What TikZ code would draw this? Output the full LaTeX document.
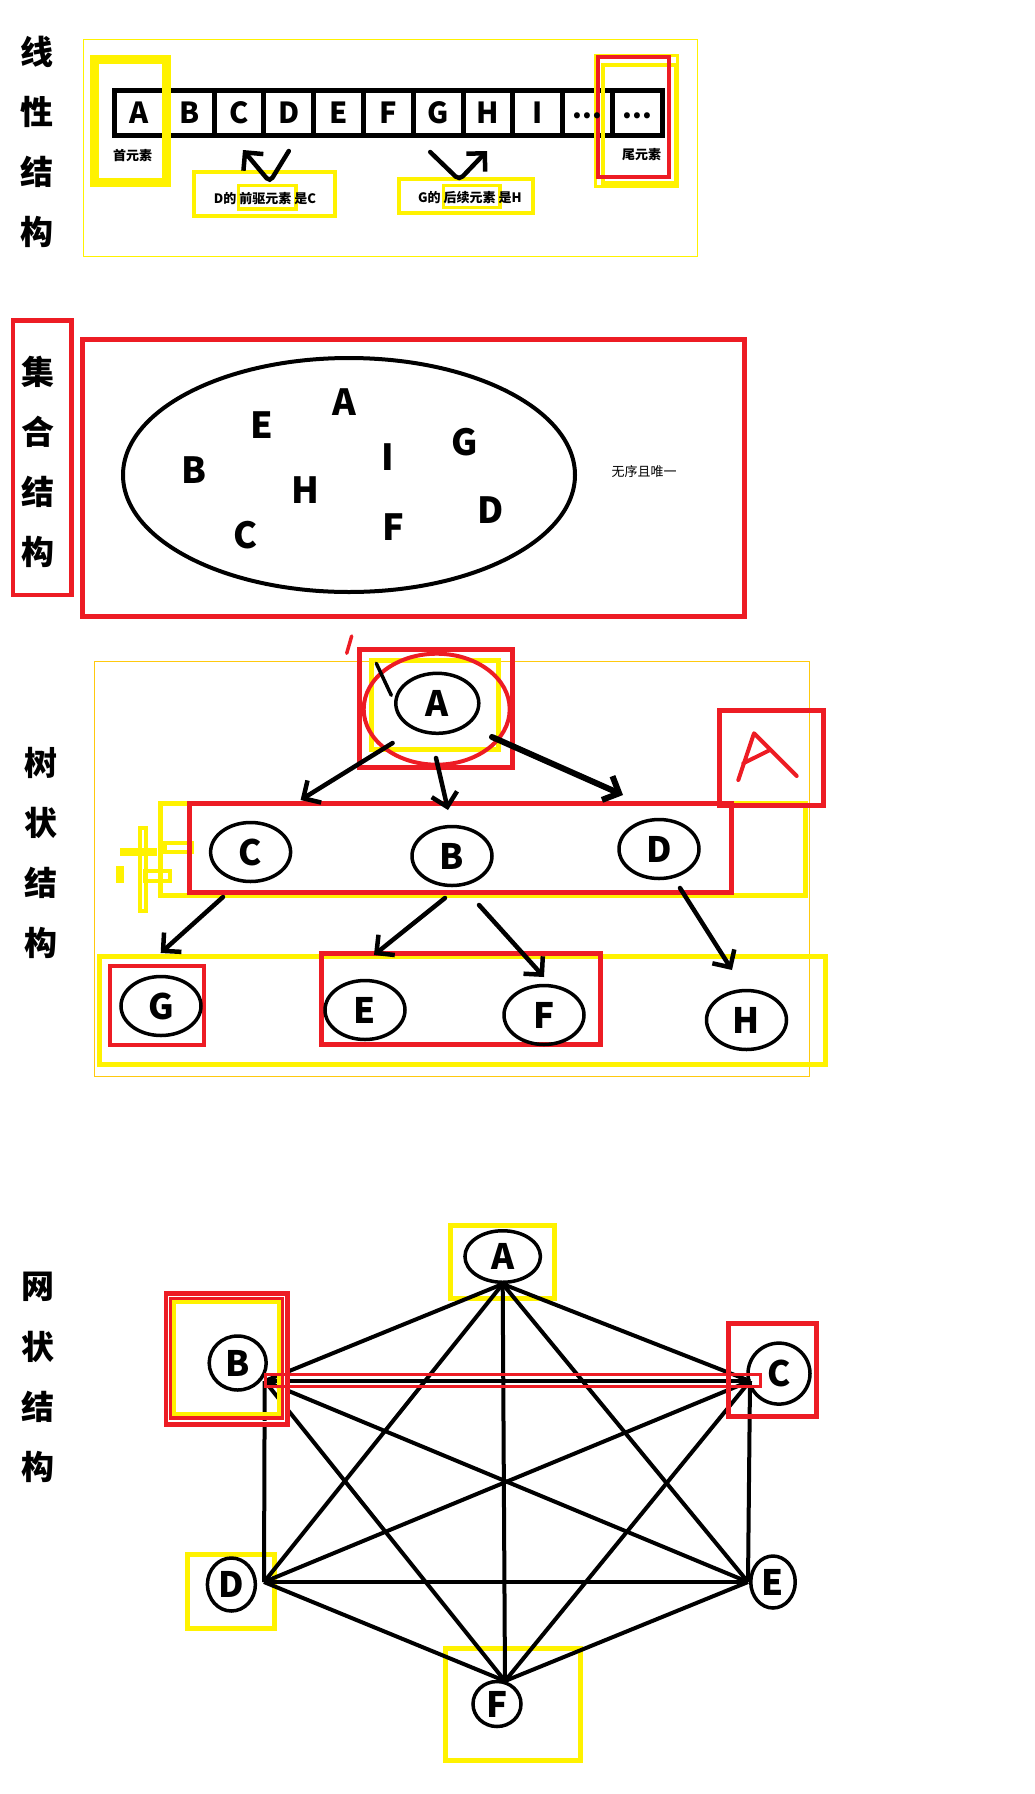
\documentclass[tikz,border=0pt]{standalone}
\usepackage{fontspec}
\setmainfont{Noto Sans CJK SC}
\usetikzlibrary{shapes.geometric,arrows.meta}
\definecolor{pred}{RGB}{237,28,36}
\definecolor{pyel}{RGB}{255,242,0}
\definecolor{pgold}{RGB}{255,201,14}
\newcommand\celldots{\raisebox{5pt}{\fontsize{28}{28}\selectfont ...}}
\begin{document}
\begin{tikzpicture}[x=1pt,y=-1pt,
    ttl/.style={font=\fontsize{33}{33}\selectfont\bfseries},
    sm/.style={font=\fontsize{13}{13}\selectfont\bfseries},
    big/.style={font=\fontsize{36}{36}\selectfont\bfseries},
    hl/.style={draw=pyel,line width=5pt},
    rd/.style={draw=pred,line width=5pt},
    cell/.style={draw,line width=5pt,minimum width=49.8pt,minimum height=45pt,inner sep=0pt},
    letter/.style={inner sep=0pt,text height=21pt,text depth=0pt,font=\fontsize{29}{29}\selectfont\bfseries},
    nd/.style={ellipse,draw,line width=3.5pt,inner sep=0pt,font=\fontsize{35}{35}\selectfont\bfseries},
    arr/.style={line width=4.5pt,line cap=round,-{Straight Barb[length=13pt,width=26pt]}},
    edge/.style={line width=4pt}]
  \useasboundingbox (0,0) rectangle (1034,1794);

  % linear structure
  \draw[pyel] (83.5,39) rectangle (697,256);
  \foreach \c [count=\i from 0] in {线,性,结,构}
    \node[ttl] (lin\i) at (37,{52+60*\i}) {\c};
  \foreach \i in {0,...,10}
    \node[cell] (r\i) at ({139.4+49.8*\i},113) {};
  \draw[hl,line width=9pt] (94,59) rectangle (166,182);
  \draw[hl,line width=3pt] (595,55.5) rectangle (677.5,186);
  \draw[hl,line width=4pt] (603,65) rectangle (676,183);
  \draw[rd,line width=4pt] (598,57) rectangle (669,177);
  \foreach \l [count=\i from 0] in {A,B,C,D,E,F,G,H,I,\celldots,\celldots}
    \node[letter] (l\i) at (r\i.center) {\l};
  \node[sm] (first) at (132.5,155) {首元素};
  \node[sm] (last) at (641.7,155) {尾元素};
  \draw[hl,line width=4pt] (193.7,172) rectangle (334.7,216);
  \draw[hl,line width=3.5pt] (238.5,185.5) rectangle (296,209);
  \node[sm] (pre) at (265,199) {D的 前驱元素 是C};
  \draw[hl,line width=4pt] (398.7,178.7) rectangle (533,213);
  \draw[hl,line width=3.5pt] (443.5,185.5) rectangle (500,207.5);
  \node[sm] (post) at (469.8,198) {G的 后续元素 是H};
  \draw[arr,rounded corners=5pt] ([shift={(0,38)}]r3.center) -- ([shift={(-19,69)}]r3.center)
    -- ([shift={(4,37)}]r2.center);
  \draw[arr,rounded corners=5pt] ([shift={(-8,39)}]r6.center) -- ([shift={(21,67)}]r6.center)
    -- ([shift={(-1,38)}]r7.center);

  % set structure
  \draw[rd,line width=4.5pt] (13,320.5) rectangle (71.5,595);
  \foreach \c [count=\i from 0] in {集,合,结,构}
    \node[ttl] (set\i) at (38,{372+60*\i}) {\c};
  \draw[rd] (82.5,339) rectangle (744,616);
  \draw[line width=4pt] (349,475) ellipse [x radius=226, y radius=117];
  \foreach \l/\x/\y in {A/344/402,E/262/425,B/194/470,I/388/457,G/465/442,
      H/305/490,C/246/535,F/393/527,D/491/510}
    \node[big] (s\l) at (\x,\y) {\l};
  \node[font=\fontsize{13}{13}\selectfont] (uniq) at (644,472) {无序且唯一};

  % tree structure
  \draw[pgold,line width=1pt] (94,661) rectangle (809.5,1076);
  \foreach \c [count=\i from 0] in {树,状,结,构}
    \node[ttl] (tree\i) at (41,{763+60*\i}) {\c};
  \draw[hl] (371.5,660.5) rectangle (498.5,749.5);
  \draw[hl] (160.5,803) rectangle (805.5,895);
  \draw[hl] (99.5,956.5) rectangle (825,1064.5);
  \draw[hl,line width=4.3pt] (140.2,828) rectangle (145.8,911);
  \fill[pyel] (120,848.3) rectangle (156.7,855.7);
  \fill[pyel] (116,866) rectangle (124.3,883.3);
  \draw[hl,line width=4pt] (144.7,871) rectangle (169.7,880.7);
  \draw[hl,line width=4pt] (165,843) rectangle (192,851.5);
  \draw[rd] (359.5,649.5) rectangle (512.5,767.5);
  \draw[rd,line width=4pt] (436.7,709.2) ellipse [x radius=73, y radius=55.5];
  \draw[pred,line width=3.5pt,line cap=round] (346.7,653.3) -- (351.7,636);
  \draw[rd] (189.5,803) rectangle (731,892.5);
  \draw[rd] (719.5,710.5) rectangle (823.5,805.5);
  \draw[pred,line width=4pt,line cap=round,line join=round]
    (738.3,780) -- (754,733.3) -- (796.7,776) (743.3,763.3) -- (770,750);
  \draw[rd,line width=4.5pt] (110,966) rectangle (204,1045);
  \draw[rd] (321.5,953.5) rectangle (600,1044);
  \node[nd,minimum width=83pt,minimum height=60pt] (tA) at (437.3,703.3) {A};
  \foreach \n/\x/\y in {C/250.6/852,B/452/856,D/659/849,G/161/1006,
      E/365/1010,F/544/1015,H/746.5/1020}
    \node[nd,minimum width=80pt,minimum height=59pt] (t\n) at (\x,\y) {\n};
  \draw[line width=3.5pt,line cap=round] ([shift={(-61,-40)}]tA.center) -- ([shift={(-46,-8)}]tA.center);
  \draw[arr] ([shift={(-44.7,39.7)}]tA.center) -- ([shift={(50,-52)}]tC.center);
  \draw[arr] ([shift={(-1.3,54.7)}]tA.center) -- ([shift={(-4,-46)}]tB.center);
  \draw[arr,line width=6pt] ([shift={(54.7,33.7)}]tA.center) -- ([shift={(-36,-54)}]tD.center);
  \draw[arr] ([shift={(-27.6,45)}]tC.center) -- ([shift={(-0.3,-53)}]tG.center);
  \draw[arr] ([shift={(-7,42)}]tB.center) -- ([shift={(9,-55)}]tE.center);
  \draw[arr] ([shift={(27,49)}]tB.center) -- ([shift={(0,-38)}]tF.center);
  \draw[arr] ([shift={(21,39)}]tD.center) -- ([shift={(-14.5,-50)}]tH.center);

  % network structure
  \foreach \c [count=\i from 0] in {网,状,结,构}
    \node[ttl] (net\i) at (38,{1287+60*\i}) {\c};
  \draw[hl] (450.5,1225.5) rectangle (554.5,1298.5);
  \draw[hl] (187.3,1554.5) rectangle (274.7,1628.5);
  \draw[hl] (445.8,1648.5) rectangle (580.5,1760.5);
  \node[nd,minimum width=75.5pt,minimum height=51.5pt] (nA) at (502.7,1256.5) {A};
  \node[nd,minimum width=57pt,minimum height=54pt] (nB) at (237.7,1363) {B};
  \node[nd,minimum width=62pt,minimum height=61pt] (nC) at (779,1373.6) {C};
  \node[nd,minimum width=48pt,minimum height=53pt] (nD) at (231.4,1584.5) {D};
  \node[nd,minimum width=44.5pt,minimum height=52pt] (nE) at (773,1582) {E};
  \node[nd,minimum width=48pt,minimum height=45pt] (nF) at (497,1704) {F};
  \coordinate (pA) at (nA.south);
  \coordinate (pB) at ([shift={(27,18)}]nB.center);
  \coordinate (pC) at ([shift={(-29,7.4)}]nC.center);
  \coordinate (pD) at ([shift={(32.6,-2.5)}]nD.center);
  \coordinate (pE) at ([shift={(-25,0)}]nE.center);
  \coordinate (pF) at ([shift={(8,-23)}]nF.center);
  \foreach \u/\v in {A/B,A/C,A/D,A/E,A/F,B/C,B/D,B/E,B/F,C/D,C/E,C/F,D/E,D/F,E/F}
    \draw[edge] (p\u) -- (p\v);
  \draw[rd] (166,1293.7) rectangle (287.5,1424);
  \draw[white,line width=1pt] (168.8,1296.5) rectangle (284.8,1421.2);
  \draw[rd,line width=3.5pt] (170.5,1299) rectangle (282.5,1418);
  \draw[hl,line width=3.5pt] (174,1302) rectangle (279,1414);
  \draw[rd,line width=3pt] (265.3,1374.3) rectangle (760,1386);
  \draw[rd] (728.5,1323.5) rectangle (816.3,1416.5);
\end{tikzpicture}
\end{document}
